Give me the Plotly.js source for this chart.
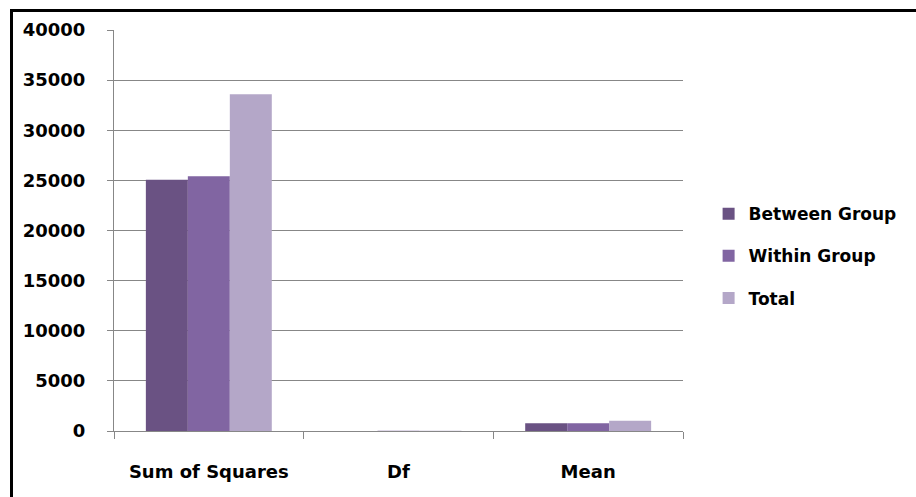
<!DOCTYPE html>
<html>
<head>
<meta charset="utf-8">
<script src="https://cdn.plot.ly/plotly-3.0.1.min.js"></script>
<style>
html,body{margin:0;padding:0;background:#fff;}
#wrap{position:relative;width:916px;height:497px;overflow:hidden;}
#chart{position:absolute;left:0;top:0;width:916px;height:497px;}
#frame{position:absolute;left:10px;top:9px;width:920px;height:500px;border-left:3px solid #000;border-top:3px solid #000;pointer-events:none;}
</style>
</head>
<body>
<div id="wrap"><div id="chart"></div><div id="frame"></div></div>
<script>
const categories = ["Sum of Squares", "Df", "Mean"];
const seriesNames = ["Between Group", "Within Group", "Total"];
const betweenGroup = [25050, 2, 770];
const withinGroup = [25400, 30, 780];
const total = [33600, 32, 1030];
const yTicks = [0, 5000, 10000, 15000, 20000, 25000, 30000, 35000, 40000];

const colors = ["#6a5283", "#8165a2", "#b4a7c8"];
const values = [betweenGroup, withinGroup, total];
const tf = {family: "DejaVu Sans", size: 18, color: "#000", weight: "bold"};

const traces = values.map((v, i) => ({
  type: "bar",
  name: seriesNames[i],
  x: categories,
  y: v,
  marker: {color: colors[i], line: {width: 0}},
  legendgroup: "g" + i,
  hoverinfo: "none"
}));

const layout = {
  width: 916, height: 497,
  margin: {l: 114, r: 233, t: 30, b: 66},
  paper_bgcolor: "#fff", plot_bgcolor: "#fff",
  barmode: "group", bargap: 0.336, bargroupgap: 0,
  font: tf,
  showlegend: true,
  legend: {
    x: 1.045, xanchor: "left", y: 0.436, yanchor: "middle",
    font: {family: "DejaVu Sans", size: 17, color: "#000", weight: "bold"},
    tracegroupgap: 17, itemwidth: 30, bgcolor: "rgba(0,0,0,0)"
  },
  xaxis: {
    type: "category",
    showgrid: false, zeroline: false,
    showline: true, linecolor: "#878787", linewidth: 1,
    ticks: "outside", tickson: "boundaries", ticklen: 7, tickcolor: "#878787",
    tickfont: tf,
    ticklabelstandoff: 24
  },
  yaxis: {
    range: [0, 40000], tickvals: yTicks, ticktext: yTicks.map(String),
    showgrid: true, gridcolor: "#878787", gridwidth: 1,
    zeroline: false,
    showline: true, linecolor: "#878787", linewidth: 1,
    ticks: "outside", ticklen: 6, tickcolor: "#878787",
    tickfont: tf,
    ticklabelstandoff: 18
  }
};

Plotly.newPlot("chart", traces, layout, {staticPlot: true, displayModeBar: false});
</script>
</body>
</html>
